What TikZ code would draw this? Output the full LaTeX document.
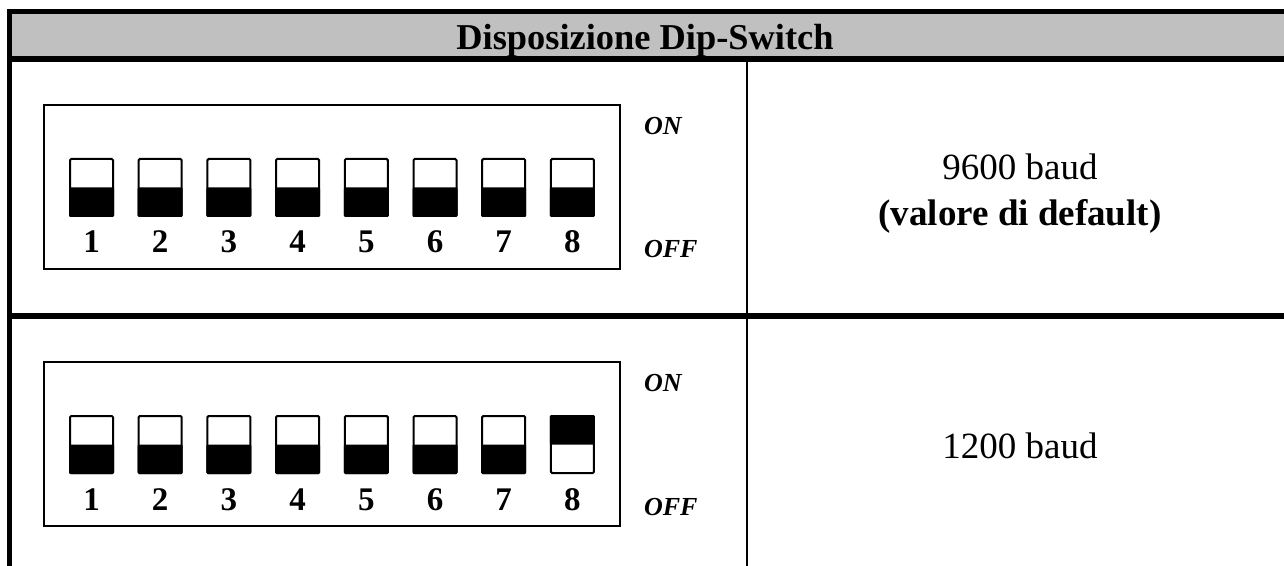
\documentclass[tikz,border=0pt]{standalone}
\usepackage{fontspec}
\setmainfont{Liberation Serif}
\definecolor{headgray}{RGB}{192,192,192}
\tikzset{
x=0.5pt, y=-0.5pt, % one unit is one pixel of the layout, y runs down
frame/.style={line width=2.6pt}, % thick table rules
divider/.style={line width=1.3pt}, % thin column rule
dipbox/.style={draw, line width=1pt}, % outline of the switch block
switchbox/.style={draw, line width=1pt, rounded corners=0.6pt, minimum width=21.5pt, minimum height=28.5pt, inner sep=0pt},
swnum/.style={font=\fontsize{16.5}{16}\selectfont\bfseries, anchor=base},
onoff/.style={font=\fontsize{13}{13}\selectfont\bfseries\itshape, anchor=base west},
baud/.style={font=\fontsize{18.5}{22}\selectfont, anchor=base},
}

\begin{document}
\begin{tikzpicture}
\clip (0,0) rectangle (1284,566);
% table
\fill[headgray] (9.5,11.5) rectangle (1300,59);
\draw[frame] (1300,11.5) -- (9.5,11.5) -- (9.5,580);
\draw[frame] (9.5,59) -- (1300,59);
\draw[frame] (9.5,316) -- (1300,316);
\draw[divider] (747,59) -- (747,580);
\node[font=\fontsize{18.2}{20}\selectfont\bfseries, anchor=base] (title) at (645,50) {Disposizione Dip-Switch};

% dip-switch blocks
\foreach \r/\yo in {1/0, 2/257}{
  \draw[dipbox] (43.5,105+\yo) rectangle (620,269+\yo);
  \foreach \i in {1,...,8}{
    \node[switchbox] (sw\r-\i) at ({91.5+(\i-1)*68.7},{187.5+\yo}) {};
    \node[swnum] (num\r-\i) at ({91.5+(\i-1)*68.7},{253+\yo}) {\i};
  }
  \node[onoff] (on\r) at (637,135+\yo) {ON};
  \node[onoff] (off\r) at (637,258+\yo) {OFF};
}
% lever positions
\foreach \i in {1,...,8}
  \fill[rounded corners=0.6pt] (sw1-\i.west) rectangle (sw1-\i.south east);
\foreach \i in {1,...,7}
  \fill[rounded corners=0.6pt] (sw2-\i.west) rectangle (sw2-\i.south east);
\fill[rounded corners=0.6pt] (sw2-8.north west) rectangle (sw2-8.east);

% baud rates
\node[baud] (rate1) at (1020,180) {9600 baud};
\node[baud, font=\fontsize{18.5}{22}\selectfont\bfseries] (dflt) at (1020,226) {(valore di default)};
\node[baud] (rate2) at (1020,458) {1200 baud};
\end{tikzpicture}
\end{document}
